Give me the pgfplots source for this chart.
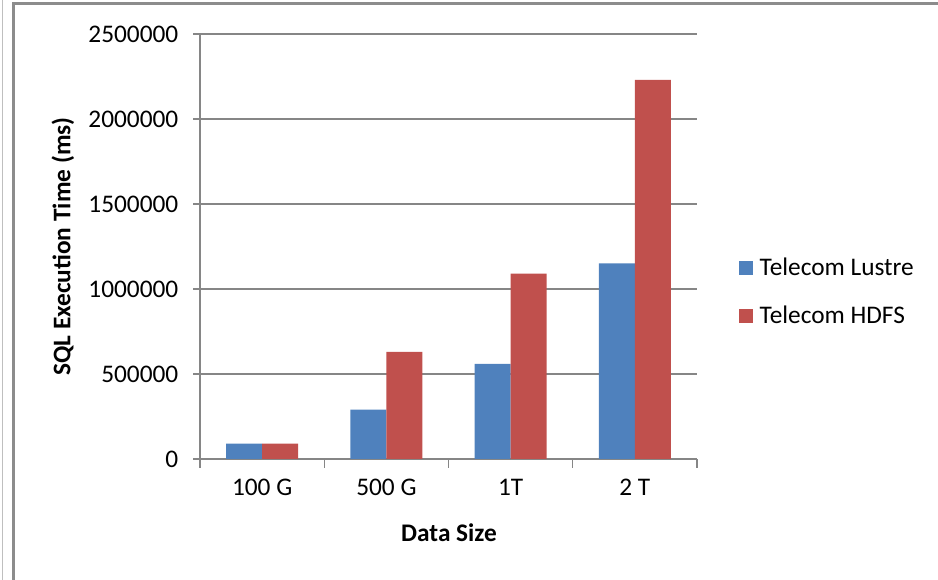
\documentclass[border=0pt]{standalone}
\usepackage{pgfplots}
\pgfplotsset{compat=1.18}
\usepackage{fontspec}
\setmainfont{Carlito}
\definecolor{lustre}{HTML}{4F81BD}
\definecolor{hdfs}{HTML}{C0504D}
\definecolor{axgray}{HTML}{868686}
\definecolor{framegray}{HTML}{8C8C8C}
\begin{document}
\begin{tikzpicture}[font=\fontsize{19}{23}\selectfont]
\path[use as bounding box] (0,0) rectangle (703.5pt,435pt);
\draw[black!25, line width=0.75pt] (2pt,0) -- (2pt,435pt);
\draw[framegray, line width=2.25pt] (9.75pt,0) -- (9.75pt,432pt) -- (703.5pt,432pt);
\begin{axis}[
  at={(150pt,90.75pt)}, anchor=south west,
  scale only axis, width=372.75pt, height=318.75pt,
  ybar=0pt, bar width=27pt,
  xmin=-0.5, xmax=3.5, ymin=0, ymax=2500000,
  axis x line*=bottom, axis y line*=left,
  axis line style={axgray, line width=0.9pt, -},
  xtick={0,1,2,3}, xticklabels={100 G,500 G,1T,2 T},
  major x tick style={draw=none},
  minor xtick={-0.5,0.5,1.5,2.5,3.5},
  minor x tick style={axgray, line width=0.9pt},
  minor tick length=6.75pt,
  ytick={0,500000,1000000,1500000,2000000,2500000},
  scaled y ticks=false,
  yticklabel style={/pgf/number format/fixed, /pgf/number format/1000 sep={}, xshift=-7.5pt},
  /pgf/number format/assume math mode=true,
  xticklabel style={yshift=-6pt},
  tick align=outside, major tick length=5.25pt,
  y tick style={axgray, line width=0.9pt},
  ymajorgrids, grid style={axgray, line width=0.9pt},
  every axis y label/.style={at={(axis description cs:-0.2757,0.5)}, rotate=90, anchor=center, font=\fontsize{19}{23}\selectfont\bfseries},
  every axis x label/.style={at={(axis description cs:0.501,-0.174)}, anchor=center, font=\fontsize{19}{23}\selectfont\bfseries},
  ylabel={SQL Execution Time (ms)}, xlabel={Data Size},
  legend style={at={(axis description cs:1.076,0.393)}, anchor=west, draw=none, fill=none, row sep=17pt, font=\fontsize{19}{23}\selectfont},
  legend cell align=left,
  legend image code/.code={\fill[#1] (0pt,-5.25pt) rectangle (10.5pt,5.25pt); \path (13.5pt,0pt);},
]
\addplot[fill=lustre, draw=none] coordinates {(0,90000) (1,290000) (2,560000) (3,1150000)};
\addplot[fill=hdfs, draw=none] coordinates {(0,90000) (1,630000) (2,1090000) (3,2230000)};
\legend{Telecom Lustre, Telecom HDFS}
\end{axis}
\end{tikzpicture}
\end{document}
